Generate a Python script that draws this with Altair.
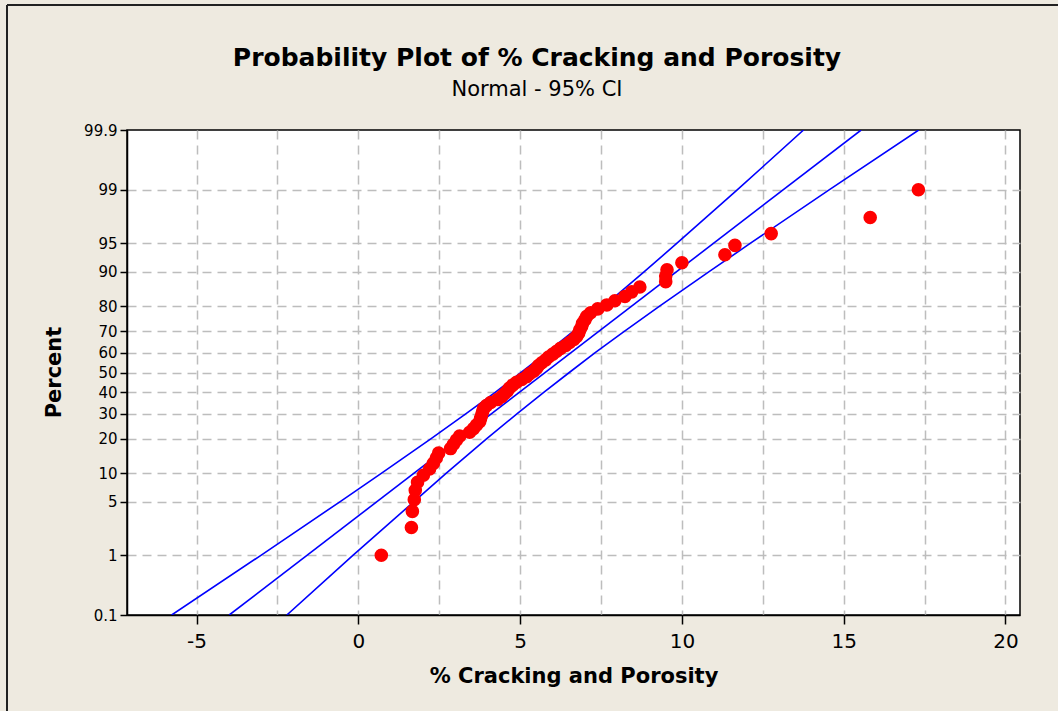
from statistics import NormalDist

import altair as alt
import pandas as pd

# % Cracking and Porosity observations, smallest to largest
cracking = [
    0.71, 1.64, 1.67, 1.73, 1.76, 1.83, 2.01, 2.20, 2.32, 2.41,
    2.48, 2.85, 2.94, 3.03, 3.13, 3.44, 3.56, 3.65, 3.75, 3.78,
    3.81, 3.84, 3.87, 3.96, 4.09, 4.30, 4.43, 4.52, 4.61, 4.67,
    4.77, 4.89, 5.05, 5.20, 5.29, 5.42, 5.51, 5.57, 5.67, 5.79,
    5.88, 6.01, 6.13, 6.25, 6.41, 6.53, 6.66, 6.75, 6.81, 6.84,
    6.90, 6.93, 7.00, 7.06, 7.18, 7.40, 7.68, 7.93, 8.24, 8.45,
    8.70, 9.50, 9.50, 9.54, 10.00, 11.33, 11.64, 12.76, 15.82, 17.31,
]

# Fitted normal line (two ends) and the 95% confidence band
fit_percent = [0.1, 99.9]
fit_x = [-3.99, 15.54]

band_percent = [0.1, 1, 5, 10, 20, 30, 40, 50, 60, 70, 80, 90, 95, 99, 99.9]
band_low_x = [-5.77, -3.00, -0.56, 0.72, 2.25, 3.33, 4.23, 5.03, 5.82, 6.64,
              7.58, 8.83, 9.84, 11.71, 13.76]
band_high_x = [-2.21, -0.16, 1.72, 2.72, 3.97, 4.91, 5.73, 6.52, 7.32, 8.22,
               9.30, 10.83, 12.11, 14.55, 17.32]

# Axis ticks
percent_ticks = [0.1, 1, 5, 10, 20, 30, 40, 50, 60, 70, 80, 90, 95, 99, 99.9]
x_grid = [-5, -2.5, 0, 2.5, 5, 7.5, 10, 12.5, 15, 17.5, 20]
x_domain = [-7.15, 20.45]

TITLE = "Probability Plot of % Cracking and Porosity"
SUBTITLE = "Normal - 95% CI"

FONT = "DejaVu Sans"
BG = "#EEEAE0"

nd = NormalDist()
z_ticks = [nd.inv_cdf(p / 100) for p in percent_ticks]
# probability scale runs from 0.1% to 99.9% (tiny pad keeps the end ticks)
z_domain = [nd.inv_cdf(0.001) - 1e-9, nd.inv_cdf(0.999) + 1e-9]

points_df = pd.DataFrame({"x": cracking})

rows = []
for i, (p, x) in enumerate(zip(fit_percent, fit_x)):
    rows.append({"series": "fit", "order": i, "percent": p, "x": x})
for i, (p, x) in enumerate(zip(band_percent, band_low_x)):
    rows.append({"series": "low", "order": i, "percent": p, "x": x})
for i, (p, x) in enumerate(zip(band_percent, band_high_x)):
    rows.append({"series": "high", "order": i, "percent": p, "x": x})
lines_df = pd.DataFrame(rows)

x_scale = alt.Scale(domain=x_domain, nice=False, zero=False)
y_scale = alt.Scale(domain=z_domain, nice=False, zero=False)

x_axis = alt.Axis(
    values=x_grid,
    tickCount=30,
    title="% Cracking and Porosity",
    labelExpr="datum.value % 5 === 0 ? '' + datum.value : ''",
    tickOpacity=alt.ExprRef("datum.value % 5 === 0 ? 1 : 0"),
    labelOverlap=False,
    grid=True,
    gridColor="#BDBDBD",
    gridDash=[9, 6],
    gridWidth=1.5,
    tickSize=9,
    tickWidth=1.5,
    tickColor="black",
    domainColor="black",
    domainWidth=1.5,
    labelFont=FONT,
    labelFontSize=20,
    labelColor="black",
    labelPadding=7,
    titleFont=FONT,
    titleFontSize=21,
    titleFontWeight="bold",
    titleColor="black",
    titleBaseline="alphabetic",
    titleY=67,
)

y_axis = alt.Axis(
    values=z_ticks,
    tickCount=30,
    title="Percent",
    labelExpr="format(cumulativeNormal(datum.value) * 100, '.3~r')",
    labelOverlap=False,
    labelFlush=False,
    labelBound=False,
    grid=True,
    # no grid on the 0.1 / 99.9 edges, where the frame already is
    gridOpacity=alt.ExprRef("abs(datum.value) > 3 ? 0 : 1"),
    gridColor="#BDBDBD",
    gridDash=[9, 6],
    gridWidth=1.5,
    tickSize=7,
    tickWidth=1.5,
    tickColor="black",
    domainColor="black",
    domainWidth=1.5,
    labelFont=FONT,
    labelFontSize=15,
    labelColor="black",
    labelPadding=3,
    titleFont=FONT,
    titleFontSize=21,
    titleFontWeight="bold",
    titleColor="black",
    titleAngle=270,
    titleBaseline="alphabetic",
    titleX=-67,
    titleY=242,
)

lines = (
    alt.Chart(lines_df)
    .mark_line(color="#0000FF", strokeWidth=1.6, clip=True)
    .transform_calculate(z="quantileNormal(datum.percent / 100)")
    .encode(
        x=alt.X("x:Q", scale=x_scale, axis=x_axis),
        y=alt.Y("z:Q", scale=y_scale, axis=y_axis),
        detail="series:N",
        order="order:Q",
    )
)

points = (
    alt.Chart(points_df)
    .transform_window(rank="row_number()", sort=[alt.SortField("x")])
    .transform_joinaggregate(n="count()")
    .transform_calculate(z="quantileNormal((datum.rank - 0.3) / (datum.n + 0.4))")
    .mark_circle(color="#FF0000", opacity=1, size=185)
    .encode(
        x=alt.X("x:Q", scale=x_scale),
        y=alt.Y("z:Q", scale=y_scale),
    )
)

# heading texts above the plot area
heading = alt.Chart(pd.DataFrame({"t": [TITLE]})).mark_text(
    font=FONT, fontSize=25, fontWeight="bold", color="black",
    align="center", baseline="alphabetic",
).encode(text="t:N", x=alt.value(410), y=alt.value(-64))

subheading = alt.Chart(pd.DataFrame({"t": [SUBTITLE]})).mark_text(
    font=FONT, fontSize=21, color="black",
    align="center", baseline="alphabetic",
).encode(text="t:N", x=alt.value(410), y=alt.value(-34))

# outer frame of the graph window
frame_left = alt.Chart(points_df).mark_rule(color="#222222", strokeWidth=1.5).encode(
    x=alt.value(-120), y=alt.value(-125), y2=alt.value(600)
)
frame_top = alt.Chart(points_df).mark_rule(color="#222222", strokeWidth=1.5).encode(
    x=alt.value(-120), x2=alt.value(940), y=alt.value(-125)
)

chart = (
    alt.layer(lines, points, heading, subheading, frame_left, frame_top)
    .properties(
        width=893,
        height=485,
        autosize=alt.AutoSizeParams(type="none"),
        padding={"left": 127, "top": 130, "right": 38, "bottom": 96},
        background=BG,
    )
    .configure_view(fill="white", stroke="black", strokeWidth=1.5)
)

chart.save("out.html", embed_options={"renderer": "svg", "actions": False})
